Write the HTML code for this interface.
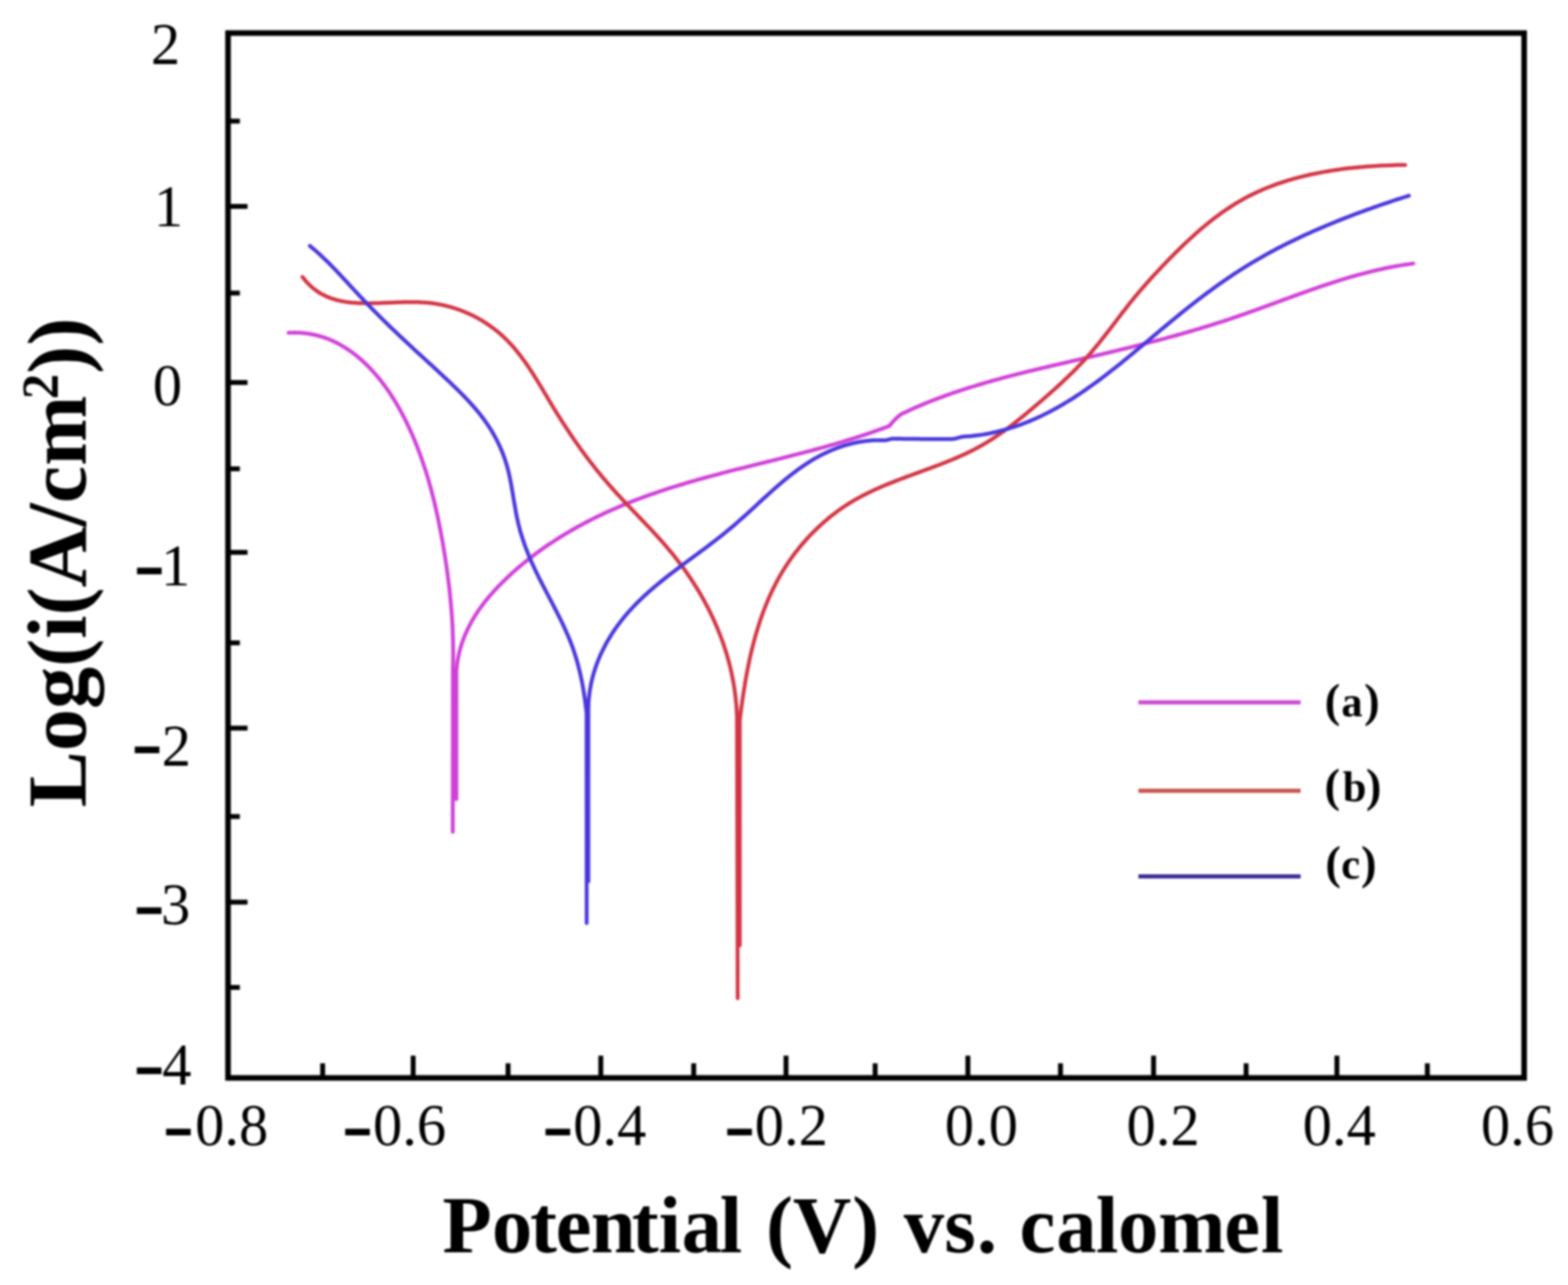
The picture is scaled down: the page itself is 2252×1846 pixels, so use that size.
<!DOCTYPE html>
<html><head><meta charset="utf-8"><title>Potentiodynamic polarization curves</title>
<style>html,body{margin:0;padding:0;background:#fff;} svg{display:block;filter:blur(1.5px);}</style></head>
<body>
<svg xmlns="http://www.w3.org/2000/svg" width="2252" height="1846" viewBox="0 0 2252 1846">
<rect x="0" y="0" width="2252" height="1846" fill="#ffffff"/>

<path d="M327.5,296.4H355.5 M327.5,549.4H355.5 M327.5,793.5H355.5 M327.5,1045.9H355.5 M327.5,1295.9H355.5 M327.5,174.0H344.5 M327.5,421.1H344.5 M327.5,673.5H344.5 M327.5,923.5H344.5 M327.5,1173.0H344.5 M327.5,1418.4H344.5 M593.4,1548.5V1516.5 M862.9,1548.5V1516.5 M1128.9,1548.5V1516.5 M1390.1,1548.5V1516.5 M1656.8,1548.5V1516.5 M1920.1,1548.5V1516.5 M463.4,1548.5V1527.5 M729.7,1548.5V1527.5 M996.3,1548.5V1527.5 M1256.9,1548.5V1527.5 M1523.1,1548.5V1527.5 M1789.7,1548.5V1527.5 M2050.0,1548.5V1527.5" stroke="#000" stroke-width="7" fill="none"/>
<path d="M414.6,478.1L418.9,477.9 423.2,477.8 427.4,477.9 431.6,478.1 435.8,478.5 439.8,478.9 443.9,479.5 447.9,480.2 451.8,481.0 455.7,482.0 459.5,483.0 463.3,484.2 467.0,485.4 470.7,486.8 474.4,488.3 477.9,489.8 481.5,491.5 485.0,493.3 488.4,495.1 491.8,497.1 495.2,499.1 498.5,501.2 501.7,503.4 504.9,505.6 508.1,508.0 511.2,510.4 514.2,512.9 517.2,515.4 520.2,518.1 523.1,520.7 526.0,523.5 528.8,526.3 531.6,529.1 534.3,532.1 537.0,535.0 539.6,538.0 542.2,541.1 544.8,544.2 547.3,547.3 549.7,550.5 552.2,553.7 554.5,557.0 556.9,560.3 559.2,563.6 561.4,567.0 563.6,570.4 565.8,573.8 567.9,577.3 570.0,580.8 572.0,584.3 574.0,587.9 576.0,591.5 577.9,595.1 579.8,598.7 581.7,602.3 583.5,606.0 585.3,609.7 587.0,613.4 588.7,617.1 590.4,620.8 592.1,624.6 593.7,628.3 595.3,632.1 596.8,635.9 598.3,639.6 599.8,643.4 601.2,647.2 602.7,651.0 604.1,654.8 605.4,658.6 606.7,662.4 608.0,666.3 609.3,670.1 610.6,673.9 611.8,677.8 613.0,681.6 614.2,685.5 615.3,689.3 616.4,693.2 617.5,697.1 618.6,700.9 619.6,704.8 620.6,708.7 621.6,712.6 622.6,716.5 623.6,720.4 624.5,724.3 625.4,728.2 626.3,732.1 627.2,736.1 628.1,740.0 628.9,743.9 629.7,747.8 630.5,751.8 631.3,755.7 632.1,759.7 632.9,763.6 633.6,767.6 634.3,771.5 635.1,775.5 635.8,779.4 636.4,783.4 637.1,787.4 637.8,791.3 638.4,795.3 639.1,799.3 639.7,803.3 640.3,807.2 640.9,811.2 641.5,815.2 642.0,819.2 642.6,823.2 643.1,827.2 643.6,831.2 644.1,835.2 644.6,839.2 645.1,843.2 645.6,847.2 646.0,851.2 646.4,855.2 646.8,859.2 647.2,863.2 647.6,867.2 647.9,871.2 648.3,875.2 648.6,879.3 648.9,883.3 649.2,887.3 649.4,891.3 649.7,895.4 649.9,899.4 650.1,903.4 650.2,907.4 650.4,911.5 650.5,915.5 650.6,919.6 650.7,923.6 650.8,927.6 650.8,931.7 650.9,935.7 650.9,939.8 650.8,943.8 650.8,947.9 650.7,951.9 650.6,955.9 650.5,960.0 650.3,1195.0" stroke="#d040d8" stroke-width="5.5" fill="none" stroke-linejoin="round" stroke-linecap="round"/>
<path d="M655.5,1148.0L655.5,965.0 655.5,965.0 655.8,960.8 656.2,956.6 656.7,952.5 657.4,948.4 658.1,944.3 658.9,940.3 659.9,936.4 660.9,932.5 662.0,928.6 663.2,924.8 664.5,921.0 665.9,917.3 667.3,913.6 668.9,909.9 670.5,906.3 672.2,902.7 674.0,899.2 675.8,895.7 677.7,892.2 679.7,888.8 681.8,885.4 683.9,882.1 686.1,878.8 688.3,875.5 690.7,872.2 693.0,869.0 695.4,865.9 697.9,862.7 700.4,859.6 703.0,856.6 705.6,853.5 708.3,850.5 710.9,847.6 713.7,844.6 716.5,841.7 719.3,838.8 722.1,836.0 725.0,833.2 727.9,830.4 730.8,827.6 733.8,824.9 736.8,822.1 739.8,819.5 742.8,816.8 745.9,814.2 749.0,811.6 752.1,809.0 755.2,806.5 758.4,803.9 761.5,801.4 764.8,799.0 768.0,796.5 771.2,794.1 774.5,791.7 777.8,789.4 781.1,787.0 784.4,784.7 787.8,782.4 791.2,780.2 794.6,778.0 798.0,775.8 801.4,773.6 804.8,771.4 808.3,769.3 811.8,767.2 815.3,765.1 818.8,763.0 822.3,761.0 825.8,759.0 829.4,757.0 833.0,755.1 836.6,753.1 840.1,751.2 843.8,749.3 847.4,747.5 851.0,745.6 854.7,743.8 858.3,742.0 862.0,740.3 865.7,738.5 869.3,736.8 873.0,735.1 876.7,733.4 880.5,731.8 884.2,730.2 887.9,728.6 891.6,727.0 895.4,725.4 899.1,723.9 902.9,722.3 906.6,720.9 910.4,719.4 914.2,717.9 918.0,716.5 921.7,715.1 925.5,713.7 929.3,712.3 933.1,710.9 936.9,709.6 940.7,708.3 944.5,707.0 948.4,705.7 952.2,704.4 956.0,703.2 959.8,701.9 963.7,700.7 967.5,699.5 971.3,698.3 975.2,697.1 979.0,696.0 982.9,694.8 986.7,693.7 990.6,692.5 994.5,691.4 998.3,690.3 1002.2,689.2 1006.1,688.1 1009.9,687.0 1013.8,686.0 1017.7,684.9 1021.6,683.9 1025.5,682.8 1029.3,681.8 1033.2,680.8 1037.1,679.7 1041.0,678.7 1044.9,677.7 1048.8,676.7 1052.7,675.7 1056.6,674.7 1060.5,673.7 1064.4,672.8 1068.3,671.8 1072.2,670.8 1076.1,669.8 1080.0,668.9 1083.9,667.9 1087.8,666.9 1091.7,665.9 1095.6,665.0 1099.5,664.0 1103.5,663.0 1107.4,662.1 1111.3,661.1 1115.2,660.1 1119.1,659.1 1123.0,658.2 1126.9,657.2 1130.8,656.2 1134.7,655.2 1138.6,654.2 1142.5,653.2 1146.4,652.2 1150.3,651.2 1154.2,650.2 1158.1,649.2 1162.0,648.1 1165.9,647.1 1169.8,646.0 1173.7,645.0 1177.6,643.9 1181.4,642.9 1185.3,641.8 1189.2,640.7 1193.1,639.6 1197.0,638.5 1200.8,637.3 1204.7,636.2 1208.6,635.1 1212.4,633.9 1216.3,632.7 1220.2,631.5 1224.0,630.3 1227.9,629.1 1231.7,627.9 1235.6,626.6 1239.4,625.4 1243.3,624.1 1247.1,622.8 1250.9,621.5 1254.7,620.2 1258.6,618.8 1262.4,617.4 1266.2,616.1 1270.0,614.7 1273.8,613.2 1277.6,611.8 1279.2,609.6 1281.0,607.5 1282.8,605.5 1284.6,603.5 1286.5,601.6 1288.5,599.7 1290.6,597.9 1292.7,596.2 1294.9,594.6 1298.6,592.9 1302.3,591.2 1306.0,589.5 1309.7,587.8 1313.4,586.1 1317.1,584.5 1320.8,582.9 1324.5,581.4 1328.3,579.8 1332.0,578.3 1335.8,576.8 1339.5,575.3 1343.3,573.8 1347.1,572.4 1350.8,571.0 1354.6,569.6 1358.4,568.2 1362.2,566.9 1366.0,565.5 1369.8,564.2 1373.6,562.9 1377.5,561.6 1381.3,560.4 1385.1,559.1 1389.0,557.9 1392.8,556.7 1396.6,555.5 1400.5,554.3 1404.4,553.1 1408.2,552.0 1412.1,550.8 1416.0,549.7 1419.8,548.6 1423.7,547.5 1427.6,546.4 1431.5,545.3 1435.4,544.3 1439.3,543.2 1443.1,542.2 1447.0,541.2 1450.9,540.1 1454.9,539.1 1458.8,538.1 1462.7,537.1 1466.6,536.1 1470.5,535.2 1474.4,534.2 1478.3,533.2 1482.3,532.3 1486.2,531.3 1490.1,530.4 1494.0,529.5 1498.0,528.5 1501.9,527.6 1505.8,526.7 1509.8,525.7 1513.7,524.8 1517.6,523.9 1521.6,523.0 1525.5,522.1 1529.4,521.2 1533.4,520.3 1537.3,519.3 1541.2,518.4 1545.2,517.5 1549.1,516.6 1553.1,515.7 1557.0,514.8 1560.9,513.9 1564.9,512.9 1568.8,512.0 1572.7,511.1 1576.7,510.2 1580.6,509.3 1584.5,508.3 1588.4,507.4 1592.4,506.5 1596.3,505.5 1600.2,504.6 1604.1,503.6 1608.1,502.7 1612.0,501.7 1615.9,500.8 1619.8,499.8 1623.8,498.8 1627.7,497.9 1631.6,496.9 1635.5,495.9 1639.4,494.9 1643.3,493.9 1647.2,492.9 1651.1,491.9 1655.0,490.9 1659.0,489.9 1662.9,488.9 1666.8,487.8 1670.7,486.8 1674.5,485.8 1678.4,484.7 1682.3,483.6 1686.2,482.6 1690.1,481.5 1694.0,480.4 1697.9,479.3 1701.8,478.2 1705.6,477.1 1709.5,476.0 1713.4,474.9 1717.2,473.7 1721.1,472.6 1725.0,471.4 1728.8,470.2 1732.7,469.1 1736.6,467.9 1740.4,466.7 1744.3,465.5 1748.1,464.2 1751.9,463.0 1755.8,461.8 1759.6,460.5 1763.5,459.3 1767.3,458.0 1771.1,456.7 1774.9,455.4 1778.8,454.1 1782.6,452.7 1786.4,451.4 1790.2,450.1 1794.0,448.7 1797.8,447.4 1801.6,446.0 1805.4,444.6 1809.2,443.3 1813.0,441.9 1816.8,440.5 1820.6,439.1 1824.4,437.7 1828.2,436.3 1832.0,434.9 1835.8,433.5 1839.6,432.1 1843.4,430.7 1847.2,429.3 1851.0,428.0 1854.8,426.6 1858.6,425.2 1862.4,423.8 1866.2,422.4 1870.0,421.1 1873.8,419.7 1877.6,418.4 1881.4,417.0 1885.2,415.7 1889.0,414.3 1892.9,413.0 1896.7,411.7 1900.5,410.4 1904.3,409.1 1908.2,407.9 1912.0,406.6 1915.8,405.4 1919.7,404.1 1923.5,402.9 1927.4,401.7 1931.2,400.5 1935.1,399.4 1939.0,398.2 1942.8,397.1 1946.7,396.0 1950.6,394.9 1954.5,393.8 1958.4,392.8 1962.3,391.8 1966.2,390.8 1970.1,389.8 1974.0,388.9 1978.0,388.0 1981.9,387.1 1985.9,386.2 1989.8,385.3 1993.8,384.5 1997.7,383.7 2001.7,383.0 2005.7,382.3 2009.7,381.6 2013.7,380.9 2017.7,380.3 2021.7,379.7 2025.8,379.1 2029.8,378.6" stroke="#d040d8" stroke-width="5.5" fill="none" stroke-linejoin="round" stroke-linecap="round"/>
<path d="M434.4,397.8L437.2,401.4 440.1,404.8 443.1,407.9 446.1,410.9 449.2,413.6 452.4,416.1 455.6,418.4 458.9,420.6 462.3,422.6 465.7,424.3 469.2,426.0 472.7,427.4 476.3,428.8 479.9,429.9 483.6,431.0 487.3,431.9 491.1,432.7 494.9,433.4 498.7,434.0 502.5,434.4 506.4,434.8 510.4,435.1 514.3,435.4 518.3,435.5 522.3,435.6 526.3,435.7 530.3,435.7 534.3,435.6 538.4,435.5 542.4,435.4 546.5,435.3 550.6,435.1 554.7,435.0 558.8,434.8 562.9,434.7 567.0,434.5 571.1,434.3 575.2,434.2 579.3,434.1 583.4,434.0 587.5,434.0 591.6,434.0 595.6,434.0 599.7,434.1 603.8,434.3 607.8,434.5 611.9,434.8 615.9,435.1 619.9,435.6 623.9,436.1 627.9,436.7 631.9,437.4 635.8,438.2 639.7,439.1 643.6,440.1 647.5,441.1 651.4,442.3 655.2,443.5 659.0,444.8 662.7,446.2 666.4,447.7 670.1,449.2 673.8,450.9 677.4,452.6 681.0,454.3 684.5,456.2 688.0,458.1 691.5,460.1 694.9,462.2 698.2,464.4 701.6,466.6 704.8,468.9 708.0,471.2 711.2,473.7 714.3,476.2 717.4,478.7 720.4,481.4 723.3,484.0 726.2,486.8 729.0,489.6 731.8,492.5 734.5,495.4 737.2,498.4 739.8,501.4 742.3,504.5 744.9,507.7 747.3,510.8 749.7,514.1 752.1,517.3 754.5,520.6 756.8,523.9 759.1,527.3 761.3,530.7 763.6,534.1 765.8,537.5 767.9,541.0 770.1,544.4 772.2,547.9 774.4,551.4 776.5,554.9 778.6,558.4 780.7,561.9 782.8,565.4 784.9,568.9 786.9,572.4 789.0,575.9 791.1,579.4 793.2,582.9 795.3,586.4 797.5,589.8 799.6,593.3 801.7,596.7 803.9,600.1 806.0,603.5 808.2,606.9 810.4,610.2 812.6,613.6 814.8,617.0 817.0,620.3 819.2,623.6 821.4,626.9 823.7,630.2 825.9,633.5 828.2,636.8 830.5,640.0 832.8,643.3 835.1,646.5 837.5,649.7 839.8,652.9 842.2,656.1 844.6,659.3 847.0,662.4 849.4,665.6 851.9,668.7 854.3,671.9 856.8,675.0 859.3,678.1 861.8,681.1 864.3,684.2 866.9,687.3 869.5,690.3 872.1,693.3 874.7,696.4 877.4,699.4 880.0,702.4 882.7,705.3 885.4,708.3 888.1,711.3 890.9,714.2 893.6,717.2 896.4,720.1 899.2,723.0 901.9,726.0 904.7,728.9 907.5,731.8 910.3,734.8 913.1,737.7 915.9,740.6 918.7,743.5 921.5,746.5 924.3,749.4 927.1,752.3 929.9,755.3 932.7,758.2 935.5,761.2 938.2,764.2 941.0,767.2 943.7,770.2 946.4,773.2 949.1,776.2 951.8,779.2 954.5,782.3 957.1,785.3 959.7,788.4 962.3,791.5 964.9,794.6 967.5,797.8 970.0,800.9 972.5,804.1 974.9,807.3 977.4,810.5 979.8,813.8 982.2,817.0 984.5,820.3 986.8,823.6 989.1,826.9 991.4,830.3 993.6,833.6 995.8,837.0 998.0,840.4 1000.1,843.8 1002.2,847.2 1004.3,850.7 1006.3,854.2 1008.3,857.6 1010.3,861.1 1012.2,864.7 1014.1,868.2 1016.0,871.8 1017.8,875.3 1019.6,878.9 1021.3,882.5 1023.1,886.1 1024.8,889.8 1026.4,893.4 1028.0,897.1 1029.6,900.8 1031.1,904.5 1032.6,908.2 1034.1,911.9 1035.5,915.6 1036.9,919.4 1038.3,923.2 1039.6,927.0 1040.8,930.8 1042.1,934.6 1043.3,938.4 1044.4,942.3 1045.5,946.1 1046.6,950.0 1047.6,953.9 1048.6,957.8 1049.5,961.7 1050.4,965.6 1051.2,969.5 1052.0,973.5 1052.8,977.4 1053.5,981.4 1054.2,985.4 1054.8,989.4 1055.4,993.4 1055.9,997.4 1056.4,1001.5 1056.8,1005.5 1057.2,1009.6 1057.6,1013.6 1057.9,1017.7 1058.1,1021.8 1058.3,1025.9 1058.5,1030.0 1059.5,1434.0" stroke="#d23444" stroke-width="5.5" fill="none" stroke-linejoin="round" stroke-linecap="round"/>
<path d="M1062.5,1358.0L1062.5,1035.0 1062.5,1035.0 1063.0,1031.1 1063.4,1027.2 1063.9,1023.3 1064.4,1019.4 1064.9,1015.5 1065.5,1011.6 1066.0,1007.6 1066.6,1003.7 1067.2,999.7 1067.8,995.8 1068.4,991.8 1069.0,987.9 1069.7,983.9 1070.3,979.9 1071.0,975.9 1071.7,972.0 1072.5,968.0 1073.2,964.0 1074.0,960.0 1074.8,956.1 1075.6,952.1 1076.4,948.1 1077.3,944.1 1078.2,940.2 1079.1,936.2 1080.1,932.3 1081.1,928.3 1082.1,924.4 1083.1,920.4 1084.2,916.5 1085.3,912.6 1086.4,908.7 1087.6,904.8 1088.8,900.9 1090.0,897.1 1091.2,893.2 1092.5,889.4 1093.9,885.5 1095.2,881.7 1096.6,877.9 1098.1,874.1 1099.5,870.4 1101.1,866.6 1102.6,862.9 1104.2,859.2 1105.8,855.5 1107.5,851.9 1109.2,848.2 1111.0,844.6 1112.8,841.0 1114.6,837.4 1116.5,833.9 1118.4,830.4 1120.4,826.9 1122.4,823.4 1124.5,820.0 1126.6,816.6 1128.8,813.2 1131.0,809.8 1133.2,806.5 1135.5,803.2 1137.8,800.0 1140.2,796.7 1142.6,793.5 1145.1,790.4 1147.6,787.2 1150.1,784.1 1152.7,781.1 1155.3,778.1 1158.0,775.1 1160.6,772.1 1163.4,769.2 1166.1,766.3 1169.0,763.5 1171.8,760.7 1174.7,757.9 1177.6,755.2 1180.6,752.5 1183.5,749.9 1186.6,747.3 1189.6,744.7 1192.7,742.2 1195.9,739.7 1199.0,737.3 1202.2,734.9 1205.4,732.6 1208.7,730.3 1212.0,728.0 1215.3,725.8 1218.7,723.7 1222.1,721.6 1225.5,719.5 1228.9,717.5 1232.4,715.6 1235.9,713.7 1239.5,711.8 1243.0,710.0 1246.6,708.2 1250.2,706.4 1253.8,704.7 1257.5,703.0 1261.1,701.4 1264.8,699.8 1268.5,698.2 1272.2,696.6 1276.0,695.1 1279.7,693.6 1283.5,692.1 1287.3,690.6 1291.0,689.2 1294.8,687.7 1298.6,686.3 1302.4,684.9 1306.2,683.5 1310.1,682.1 1313.9,680.7 1317.7,679.3 1321.5,677.9 1325.3,676.5 1329.1,675.1 1333.0,673.7 1336.8,672.3 1340.6,670.8 1344.4,669.4 1348.2,668.0 1352.0,666.5 1355.7,665.0 1359.5,663.6 1363.2,662.0 1367.0,660.5 1370.7,658.9 1374.4,657.4 1378.1,655.7 1381.8,654.1 1385.4,652.4 1389.0,650.7 1392.6,649.0 1396.2,647.2 1399.8,645.4 1403.3,643.5 1406.8,641.6 1410.3,639.6 1413.8,637.6 1417.2,635.6 1420.6,633.5 1424.0,631.4 1427.3,629.2 1430.6,627.0 1433.9,624.7 1437.2,622.5 1440.5,620.2 1443.7,617.8 1447.0,615.4 1450.2,613.0 1453.4,610.6 1456.5,608.2 1459.7,605.7 1462.8,603.2 1466.0,600.7 1469.1,598.1 1472.2,595.6 1475.3,593.0 1478.4,590.4 1481.5,587.8 1484.6,585.2 1487.6,582.6 1490.7,580.0 1493.7,577.4 1496.8,574.7 1499.8,572.1 1502.9,569.5 1505.9,566.8 1508.9,564.1 1511.9,561.5 1514.9,558.8 1517.9,556.1 1520.9,553.4 1523.9,550.6 1526.8,547.9 1529.7,545.1 1532.6,542.4 1535.5,539.6 1538.4,536.8 1541.3,534.0 1544.1,531.1 1546.9,528.3 1549.7,525.4 1552.4,522.5 1555.2,519.6 1557.9,516.6 1560.6,513.7 1563.2,510.7 1565.8,507.7 1568.5,504.7 1571.0,501.6 1573.6,498.5 1576.1,495.5 1578.7,492.4 1581.2,489.2 1583.7,486.1 1586.1,483.0 1588.6,479.8 1591.0,476.7 1593.5,473.5 1595.9,470.3 1598.4,467.1 1600.8,464.0 1603.2,460.8 1605.6,457.6 1608.1,454.4 1610.5,451.2 1612.9,448.0 1615.4,444.9 1617.9,441.7 1620.3,438.6 1622.8,435.4 1625.3,432.3 1627.9,429.2 1630.4,426.1 1633.0,423.0 1635.5,420.0 1638.1,416.9 1640.8,413.9 1643.4,410.9 1646.1,407.8 1648.7,404.8 1651.4,401.9 1654.1,398.9 1656.8,395.9 1659.6,393.0 1662.3,390.0 1665.1,387.1 1667.8,384.2 1670.6,381.2 1673.4,378.3 1676.2,375.4 1679.0,372.5 1681.8,369.6 1684.7,366.7 1687.5,363.9 1690.4,361.0 1693.3,358.2 1696.2,355.3 1699.1,352.5 1702.0,349.7 1705.0,347.0 1707.9,344.2 1710.9,341.5 1713.9,338.7 1716.9,336.0 1719.9,333.4 1722.9,330.7 1726.0,328.1 1729.1,325.5 1732.2,322.9 1735.3,320.4 1738.4,317.9 1741.6,315.4 1744.7,313.0 1747.9,310.6 1751.2,308.2 1754.4,305.8 1757.7,303.5 1761.0,301.3 1764.3,299.1 1767.6,296.9 1771.0,294.7 1774.3,292.6 1777.7,290.6 1781.2,288.6 1784.6,286.6 1788.1,284.7 1791.6,282.8 1795.2,281.0 1798.7,279.2 1802.3,277.5 1805.9,275.8 1809.6,274.2 1813.2,272.6 1816.9,271.0 1820.6,269.5 1824.3,268.0 1828.1,266.6 1831.8,265.2 1835.6,263.9 1839.4,262.6 1843.2,261.3 1847.0,260.1 1850.9,258.9 1854.7,257.8 1858.6,256.7 1862.5,255.6 1866.4,254.6 1870.3,253.6 1874.2,252.6 1878.2,251.7 1882.1,250.8 1886.1,250.0 1890.1,249.2 1894.0,248.4 1898.0,247.6 1902.0,246.9 1906.0,246.2 1910.0,245.5 1914.0,244.9 1918.0,244.3 1922.1,243.7 1926.1,243.1 1930.1,242.6 1934.1,242.1 1938.2,241.6 1942.2,241.2 1946.2,240.8 1950.3,240.4 1954.3,240.0 1958.3,239.7 1962.3,239.3 1966.4,239.0 1970.4,238.8 1974.4,238.5 1978.4,238.3 1982.4,238.0 1986.4,237.8 1990.4,237.7 1994.4,237.5 1998.4,237.4 2002.3,237.2 2006.3,237.1 2010.2,237.0 2014.2,237.0 2018.1,236.9" stroke="#d23444" stroke-width="5.5" fill="none" stroke-linejoin="round" stroke-linecap="round"/>
<path d="M445.0,353.2L448.1,355.8 451.2,358.4 454.3,361.0 457.3,363.7 460.3,366.4 463.2,369.2 466.1,371.9 469.0,374.7 471.9,377.5 474.7,380.4 477.5,383.3 480.3,386.1 483.1,389.0 485.8,392.0 488.6,394.9 491.3,397.8 494.1,400.8 496.8,403.7 499.5,406.7 502.2,409.6 505.0,412.6 507.7,415.5 510.4,418.5 513.2,421.4 515.9,424.4 518.7,427.3 521.4,430.2 524.2,433.1 527.0,436.0 529.8,438.9 532.6,441.8 535.5,444.7 538.3,447.6 541.1,450.4 544.0,453.3 546.8,456.1 549.7,458.9 552.5,461.8 555.4,464.6 558.3,467.4 561.2,470.2 564.1,473.0 567.0,475.8 569.9,478.5 572.8,481.3 575.7,484.1 578.7,486.8 581.6,489.6 584.5,492.3 587.5,495.0 590.4,497.7 593.3,500.4 596.3,503.2 599.2,505.9 602.2,508.6 605.1,511.3 608.1,514.0 611.1,516.7 614.0,519.4 617.0,522.1 619.9,524.8 622.9,527.6 625.8,530.3 628.8,533.0 631.7,535.8 634.7,538.5 637.6,541.3 640.6,544.0 643.5,546.8 646.5,549.6 649.4,552.4 652.3,555.2 655.2,558.0 658.1,560.9 661.0,563.7 663.9,566.6 666.7,569.5 669.5,572.4 672.3,575.4 675.0,578.3 677.7,581.3 680.4,584.4 683.0,587.4 685.6,590.5 688.2,593.6 690.7,596.8 693.1,600.0 695.5,603.2 697.8,606.4 700.1,609.7 702.3,613.1 704.5,616.4 706.6,619.8 708.6,623.3 710.5,626.8 712.4,630.3 714.3,633.8 716.0,637.4 717.7,641.0 719.3,644.7 720.9,648.3 722.3,652.0 723.7,655.8 725.1,659.6 726.3,663.3 727.5,667.2 728.6,671.0 729.6,674.9 730.6,678.8 731.5,682.7 732.3,686.7 733.1,690.6 733.9,694.6 734.6,698.6 735.3,702.6 736.0,706.6 736.7,710.6 737.3,714.6 738.0,718.6 738.7,722.6 739.4,726.6 740.1,730.6 740.8,734.6 741.5,738.6 742.3,742.6 743.2,746.5 744.0,750.5 745.0,754.4 746.0,758.3 747.0,762.2 748.1,766.0 749.3,769.9 750.5,773.7 751.8,777.5 753.1,781.3 754.4,785.1 755.8,788.8 757.3,792.6 758.7,796.3 760.3,800.0 761.8,803.7 763.4,807.4 765.1,811.0 766.8,814.7 768.5,818.3 770.2,822.0 772.0,825.6 773.7,829.2 775.5,832.8 777.4,836.4 779.2,840.0 781.1,843.5 782.9,847.1 784.8,850.7 786.7,854.3 788.5,857.8 790.4,861.4 792.3,865.0 794.1,868.5 796.0,872.1 797.8,875.7 799.7,879.3 801.5,882.9 803.3,886.5 805.1,890.1 806.8,893.7 808.6,897.3 810.3,901.0 811.9,904.6 813.6,908.3 815.2,912.0 816.8,915.7 818.3,919.4 819.8,923.1 821.2,926.9 822.6,930.6 823.9,934.4 825.2,938.3 826.4,942.1 827.6,945.9 828.7,949.8 829.8,953.7 830.8,957.6 831.8,961.5 832.8,965.4 833.7,969.4 834.5,973.3 835.4,977.3 836.2,981.2 836.9,985.2 837.6,989.2 838.3,993.2 838.9,997.1 839.5,1001.1 840.1,1005.1 840.6,1009.1 841.1,1013.1 841.6,1017.1 842.1,1021.0 842.5,1025.0 842.6,1326.0" stroke="#4836dc" stroke-width="5.5" fill="none" stroke-linejoin="round" stroke-linecap="round"/>
<path d="M845.0,1266.0L845.0,1020.0 845.0,1020.0 845.1,1015.8 845.2,1011.7 845.4,1007.5 845.8,1003.4 846.2,999.3 846.7,995.3 847.3,991.2 848.0,987.2 848.7,983.2 849.6,979.2 850.5,975.3 851.5,971.4 852.6,967.5 853.8,963.6 855.0,959.8 856.3,956.0 857.7,952.2 859.2,948.4 860.7,944.7 862.3,941.0 864.0,937.4 865.8,933.8 867.6,930.2 869.4,926.6 871.3,923.1 873.3,919.6 875.4,916.2 877.5,912.8 879.6,909.4 881.8,906.1 884.1,902.8 886.4,899.5 888.8,896.3 891.2,893.1 893.6,890.0 896.1,886.9 898.7,883.8 901.3,880.8 903.9,877.8 906.6,874.9 909.3,872.0 912.0,869.1 914.8,866.3 917.6,863.5 920.5,860.7 923.3,858.0 926.2,855.3 929.2,852.6 932.1,849.9 935.1,847.3 938.2,844.7 941.2,842.1 944.3,839.5 947.4,837.0 950.5,834.5 953.6,832.0 956.7,829.5 959.9,827.0 963.1,824.5 966.3,822.1 969.5,819.6 972.7,817.2 975.9,814.8 979.2,812.3 982.4,809.9 985.7,807.5 988.9,805.1 992.2,802.7 995.5,800.3 998.7,797.9 1002.0,795.5 1005.3,793.0 1008.5,790.6 1011.8,788.2 1015.1,785.8 1018.3,783.3 1021.6,780.8 1024.8,778.4 1028.0,775.9 1031.2,773.4 1034.5,770.9 1037.6,768.3 1040.8,765.8 1044.0,763.2 1047.1,760.6 1050.3,758.0 1053.4,755.4 1056.5,752.7 1059.5,750.0 1062.6,747.3 1065.6,744.6 1068.7,741.9 1071.7,739.2 1074.7,736.4 1077.7,733.7 1080.7,730.9 1083.7,728.2 1086.7,725.4 1089.7,722.6 1092.7,719.9 1095.7,717.1 1098.7,714.4 1101.7,711.7 1104.7,708.9 1107.7,706.2 1110.7,703.5 1113.7,700.9 1116.7,698.2 1119.8,695.6 1122.8,693.0 1125.9,690.4 1129.0,687.9 1132.1,685.3 1135.2,682.9 1138.4,680.4 1141.6,678.0 1144.7,675.6 1148.0,673.3 1151.2,671.0 1154.5,668.7 1157.8,666.5 1161.1,664.4 1164.4,662.3 1167.8,660.2 1171.3,658.2 1174.7,656.3 1178.2,654.4 1181.7,652.6 1185.3,650.9 1188.9,649.2 1192.6,647.5 1196.3,646.0 1200.0,644.5 1203.8,643.1 1207.6,641.8 1211.4,640.5 1215.2,639.4 1219.1,638.3 1223.0,637.3 1227.0,636.4 1230.9,635.5 1234.9,634.8 1239.0,634.2 1243.0,633.6 1247.1,633.2 1251.1,632.8 1255.2,632.6 1259.4,632.4 1263.5,632.4 1267.6,632.4 1271.8,632.6 1280.5,630.3 1284.8,630.3 1289.0,630.3 1293.3,630.3 1297.5,630.4 1301.8,630.4 1306.1,630.4 1310.3,630.5 1314.6,630.5 1318.9,630.6 1323.1,630.7 1327.4,630.7 1331.6,630.7 1335.9,630.8 1340.2,630.8 1344.4,630.8 1348.7,630.8 1353.0,630.8 1357.2,630.8 1361.5,630.8 1365.7,630.7 1370.0,630.6 1381.9,627.4 1386.1,627.1 1390.3,626.8 1394.5,626.5 1398.7,626.0 1402.8,625.5 1406.9,625.0 1411.0,624.4 1415.0,623.7 1419.0,623.0 1423.0,622.2 1427.0,621.3 1430.9,620.5 1434.9,619.5 1438.8,618.5 1442.6,617.5 1446.5,616.4 1450.3,615.2 1454.1,614.0 1457.9,612.8 1461.7,611.5 1465.5,610.2 1469.2,608.8 1472.9,607.3 1476.6,605.9 1480.2,604.4 1483.9,602.8 1487.5,601.2 1491.1,599.6 1494.7,597.9 1498.3,596.1 1501.8,594.4 1505.4,592.6 1508.9,590.8 1512.4,588.9 1515.9,587.0 1519.4,585.1 1522.8,583.1 1526.3,581.1 1529.7,579.0 1533.1,577.0 1536.5,574.9 1539.9,572.8 1543.3,570.6 1546.6,568.4 1550.0,566.2 1553.3,564.0 1556.6,561.7 1559.9,559.4 1563.2,557.1 1566.5,554.8 1569.8,552.4 1573.1,550.1 1576.3,547.7 1579.6,545.3 1582.8,542.8 1586.1,540.4 1589.3,537.9 1592.5,535.4 1595.7,532.9 1598.9,530.4 1602.1,527.9 1605.3,525.4 1608.5,522.8 1611.6,520.3 1614.8,517.7 1618.0,515.1 1621.1,512.5 1624.3,509.9 1627.4,507.3 1630.6,504.7 1633.7,502.1 1636.8,499.5 1640.0,496.9 1643.1,494.2 1646.2,491.6 1649.4,489.0 1652.5,486.3 1655.6,483.7 1658.7,481.1 1661.9,478.5 1665.0,475.8 1668.1,473.2 1671.2,470.6 1674.4,468.0 1677.5,465.4 1680.6,462.8 1683.8,460.2 1686.9,457.6 1690.0,455.1 1693.2,452.5 1696.3,449.9 1699.5,447.4 1702.6,444.9 1705.8,442.4 1708.9,439.9 1712.1,437.4 1715.3,434.9 1718.5,432.4 1721.6,430.0 1724.8,427.6 1728.0,425.1 1731.2,422.7 1734.4,420.3 1737.7,418.0 1740.9,415.6 1744.1,413.3 1747.4,410.9 1750.6,408.6 1753.9,406.3 1757.2,404.0 1760.5,401.7 1763.7,399.5 1767.1,397.3 1770.4,395.0 1773.7,392.8 1777.0,390.7 1780.4,388.5 1783.8,386.3 1787.1,384.2 1790.5,382.1 1793.9,380.0 1797.4,377.9 1800.8,375.9 1804.2,373.8 1807.7,371.8 1811.2,369.8 1814.7,367.8 1818.2,365.9 1821.7,363.9 1825.2,362.0 1828.8,360.1 1832.3,358.2 1835.9,356.3 1839.5,354.5 1843.1,352.6 1846.7,350.8 1850.3,349.0 1853.9,347.2 1857.6,345.5 1861.2,343.7 1864.9,342.0 1868.5,340.2 1872.2,338.5 1875.9,336.8 1879.6,335.2 1883.3,333.5 1887.0,331.8 1890.7,330.2 1894.5,328.6 1898.2,327.0 1901.9,325.4 1905.7,323.8 1909.4,322.2 1913.2,320.7 1917.0,319.2 1920.7,317.6 1924.5,316.1 1928.3,314.6 1932.1,313.1 1935.9,311.7 1939.6,310.2 1943.4,308.8 1947.2,307.3 1951.0,305.9 1954.9,304.5 1958.7,303.1 1962.5,301.7 1966.3,300.4 1970.1,299.0 1973.9,297.6 1977.7,296.3 1981.5,295.0 1985.4,293.7 1989.2,292.4 1993.0,291.1 1996.8,289.8 2000.6,288.5 2004.4,287.2 2008.3,286.0 2012.1,284.8 2015.9,283.5 2019.7,282.3 2023.5,281.1" stroke="#4836dc" stroke-width="5.5" fill="none" stroke-linejoin="round" stroke-linecap="round"/>
<path d="M1635,1009H1868" stroke="#cc4bd2" stroke-width="6" fill="none"/>
<path d="M1635,1136H1868" stroke="#c8554b" stroke-width="6" fill="none"/>
<path d="M1635,1259H1868" stroke="#3a2a96" stroke-width="6" fill="none"/>
<rect x="327.5" y="47.5" width="1861.5" height="1501.0" fill="none" stroke="#000" stroke-width="8"/>
<text x="280.3" y="1645" font-family="'Liberation Serif','Times New Roman',serif" font-size="84">0.8</text>
<text x="535.7" y="1645" font-family="'Liberation Serif','Times New Roman',serif" font-size="84">0.6</text>
<text x="823.2" y="1645" font-family="'Liberation Serif','Times New Roman',serif" font-size="84">0.4</text>
<text x="1084" y="1645" font-family="'Liberation Serif','Times New Roman',serif" font-size="84">0.2</text>
<text x="1357.1" y="1645" font-family="'Liberation Serif','Times New Roman',serif" font-size="84">0.0</text>
<text x="1618" y="1645" font-family="'Liberation Serif','Times New Roman',serif" font-size="84">0.2</text>
<text x="1870.9" y="1645" font-family="'Liberation Serif','Times New Roman',serif" font-size="84">0.4</text>
<text x="2127.1" y="1645" font-family="'Liberation Serif','Times New Roman',serif" font-size="84">0.6</text>
<text transform="translate(238.9,1669.6) scale(0.82,2.25)" font-family="'Liberation Serif','Times New Roman',serif" font-size="84">&#8211;</text>
<text transform="translate(496.2,1669.6) scale(0.82,2.25)" font-family="'Liberation Serif','Times New Roman',serif" font-size="84">&#8211;</text>
<text transform="translate(784.1,1669.6) scale(0.82,2.25)" font-family="'Liberation Serif','Times New Roman',serif" font-size="84">&#8211;</text>
<text transform="translate(1044.9,1669.6) scale(0.82,2.25)" font-family="'Liberation Serif','Times New Roman',serif" font-size="84">&#8211;</text>
<text x="216.75" y="92" font-family="'Liberation Serif','Times New Roman',serif" font-size="84">2</text>
<text x="220.9" y="324.8" font-family="'Liberation Serif','Times New Roman',serif" font-size="84">1</text>
<text x="219.4" y="581.9" font-family="'Liberation Serif','Times New Roman',serif" font-size="84">0</text>
<text x="231.2" y="841.2" font-family="'Liberation Serif','Times New Roman',serif" font-size="84">1</text>
<text x="232.35" y="1099.6" font-family="'Liberation Serif','Times New Roman',serif" font-size="84">2</text>
<text x="231.15" y="1327.7" font-family="'Liberation Serif','Times New Roman',serif" font-size="84">3</text>
<text x="232.9" y="1558" font-family="'Liberation Serif','Times New Roman',serif" font-size="84">4</text>
<text transform="translate(197.3,864.1) scale(0.82,2.25)" font-family="'Liberation Serif','Times New Roman',serif" font-size="84">&#8211;</text>
<text transform="translate(193.9,1121.1) scale(0.82,2.25)" font-family="'Liberation Serif','Times New Roman',serif" font-size="84">&#8211;</text>
<text transform="translate(196.9,1352.1) scale(0.82,2.25)" font-family="'Liberation Serif','Times New Roman',serif" font-size="84">&#8211;</text>
<text transform="translate(196.9,1582.1) scale(0.82,2.25)" font-family="'Liberation Serif','Times New Roman',serif" font-size="84">&#8211;</text>
<text x="635.6 706.4 761.2 798.0 848.4 907.5 946.0 979.0 1033.7 1063.7 1100.2 1138.7 1224.1 1254.1 1297.9 1356.3 1403.1 1433.1 1464.3 1517.0 1573.9 1605.8 1663.6 1758.2 1811.1" y="1798.8" font-family="'Liberation Serif','Times New Roman',serif" font-weight="bold" font-size="116">Potential (V) vs. calomel</text>
<text transform="translate(123,1157.4) rotate(-90)" x="-2.4" y="0" font-family="'Liberation Serif','Times New Roman',serif" font-weight="bold" font-size="121">Log(i(A/cm<tspan dx="-5" dy="-40" font-size="73">2</tspan><tspan dy="40">))</tspan></text>
<text x="1902.4 1926.6 1959.2" y="1028.5" font-family="'Liberation Serif','Times New Roman',serif" font-weight="bold" font-size="67">(<tspan font-size="61">a</tspan>)</text>
<text x="1902.3 1928.6 1961.7" y="1150.7" font-family="'Liberation Serif','Times New Roman',serif" font-weight="bold" font-size="67">(<tspan font-size="61">b</tspan>)</text>
<text x="1903.4 1926.2 1954.8" y="1262" font-family="'Liberation Serif','Times New Roman',serif" font-weight="bold" font-size="67">(<tspan font-size="61">c</tspan>)</text>
</svg>
</body></html>
